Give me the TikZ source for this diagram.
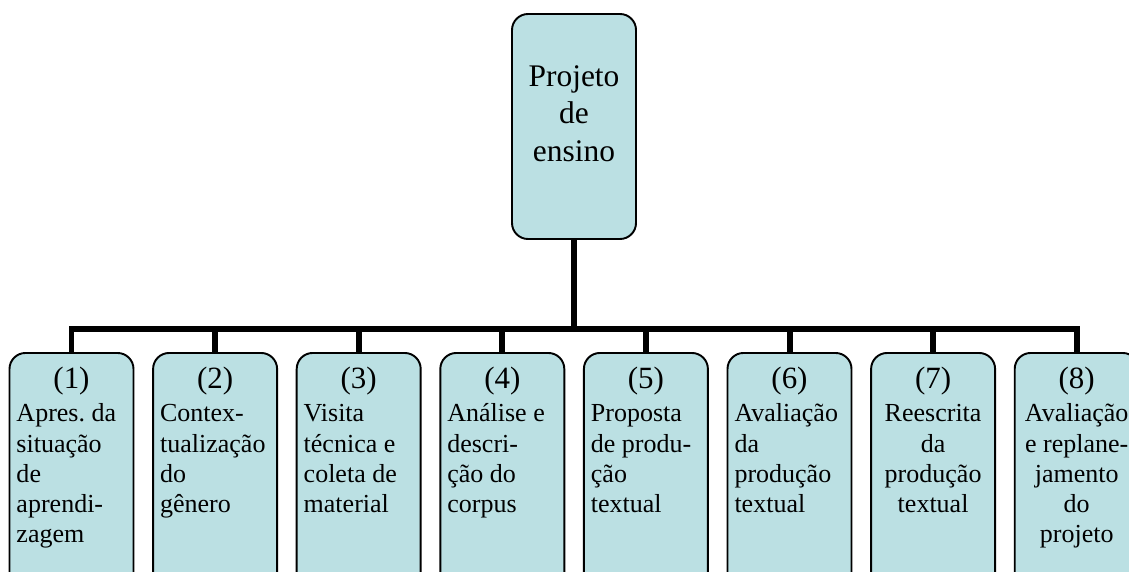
\documentclass[tikz,border=0pt]{standalone}
\usepackage{fontspec}
\setmainfont{Liberation Serif}
\frenchspacing
\definecolor{boxfill}{RGB}{187,224,227}
% номер этапа, по центру строки
\newcommand{\stnum}[1]{\makebox[\linewidth]{\fontsize{17.6}{20}\selectfont(#1)}\\[2.1pt]}

\begin{document}
\begin{tikzpicture}[
    box/.style={draw=black, line width=1.1pt, fill=boxfill, rounded corners=0.32cm, minimum width=2.48cm},
    stagebox/.style={box, minimum height=4.8cm, anchor=north},
    stagetext/.style={anchor=base, text width=2.2cm, inner sep=0pt, align=flush left, font=\fontsize{14.8}{17.2}\selectfont},
    toptext/.style={anchor=base, text width=2.3cm, inner sep=0pt, align=flush center, font=\fontsize{17.9}{21.6}\selectfont},
    link/.style={line width=3.4pt, black}
]

    % 0. Рамка рисунка (низ блоков обрезан)
    \useasboundingbox (0,0) rectangle (22.58,11.42);
    \clip (0,0) rectangle (22.58,11.42);

    % 1. Верхний блок
    \node[box, minimum height=4.5cm] (top) at (11.48, 8.89) {};
    \node[toptext] (toplb) at (11.48, 9.70) {Projeto\\de\\ensino};

    % 2. Нижние блоки (этапы)
    \node[stagebox] (st1) at (1.430, 4.38) {};
    \node[stagebox] (st2) at (4.302, 4.38) {};
    \node[stagebox] (st3) at (7.174, 4.38) {};
    \node[stagebox] (st4) at (10.046, 4.38) {};
    \node[stagebox] (st5) at (12.918, 4.38) {};
    \node[stagebox] (st6) at (15.790, 4.38) {};
    \node[stagebox] (st7) at (18.662, 4.38) {};
    \node[stagebox] (st8) at (21.534, 4.38) {};

    % 3. Подписи этапов
    \node[stagetext] (lb1) at (1.430, 3.66) {\stnum{1}Apres. da\\situação\\de\\aprendi-\\zagem};
    \node[stagetext] (lb2) at (4.302, 3.66) {\stnum{2}Contex-\\tualização\\do\\gênero};
    \node[stagetext] (lb3) at (7.174, 3.66) {\stnum{3}Visita\\técnica e\\coleta de\\material};
    \node[stagetext] (lb4) at (10.046, 3.66) {\stnum{4}Análise e\\descri-\\ção do\\corpus};
    \node[stagetext] (lb5) at (12.918, 3.66) {\stnum{5}Proposta\\de produ-\\ção\\textual};
    \node[stagetext] (lb6) at (15.790, 3.66) {\stnum{6}Avaliação\\da\\produção\\textual};
    \node[stagetext, align=flush center] (lb7) at (18.662, 3.66) {\stnum{7}Reescrita\\da\\produção\\textual};
    \node[stagetext, align=flush center] (lb8) at (21.534, 3.66) {\stnum{8}Avaliação\\e replane-\\jamento\\do\\projeto};

    % 4. Соединительные линии
    \coordinate (bar) at (0, 4.84);
    \draw[link] (top.south) -- (top.south |- bar);
    \draw[link] (st1.north) -- (st1.north |- bar) -- (st8.north |- bar) -- (st8.north);
    \draw[link] (st2.north) -- (st2.north |- bar);
    \draw[link] (st3.north) -- (st3.north |- bar);
    \draw[link] (st4.north) -- (st4.north |- bar);
    \draw[link] (st5.north) -- (st5.north |- bar);
    \draw[link] (st6.north) -- (st6.north |- bar);
    \draw[link] (st7.north) -- (st7.north |- bar);

\end{tikzpicture}
\end{document}
